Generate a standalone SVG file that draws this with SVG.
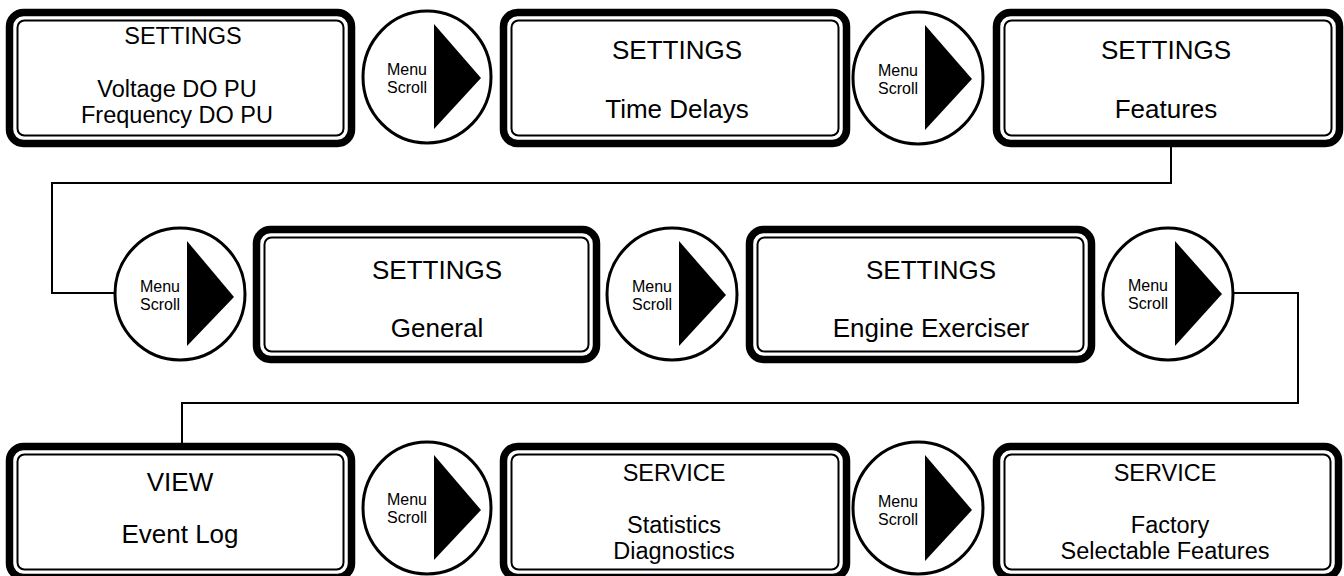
<svg xmlns="http://www.w3.org/2000/svg" width="1344" height="576" viewBox="0 0 1344 576">
<style>
.o{fill:#fff;stroke:#000;stroke-width:7.5}
.i{fill:none;stroke:#000;stroke-width:2}
.c{fill:#fff;stroke:#000;stroke-width:3}
.tri{fill:#000}
.t{font-family:"Liberation Sans",Arial,sans-serif;font-size:26px;fill:#000;text-anchor:middle}
.s{font-size:23.5px}
.m{font-family:"Liberation Sans",Arial,sans-serif;font-size:16px;fill:#000;text-anchor:middle}
.ln{fill:none;stroke:#000;stroke-width:2}
</style>
<rect width="1344" height="576" fill="#fff"/>
<g id="connectors">
<polyline class="ln" points="1171,147 1171,183 52,183 52,293 115,293"/>
<polyline class="ln" points="1233,293 1298,293 1298,403 182,403 182,443"/>
</g>
<g id="box-voltage">
<rect class="o" x="9.5" y="12.5" width="342" height="131" rx="14"/>
<rect class="i" x="17.5" y="20.5" width="326" height="115" rx="7"/>
<text class="t s" x="183" y="44">SETTINGS</text>
<text class="t s" x="177" y="97">Voltage DO PU</text>
<text class="t s" x="177" y="123">Frequency DO PU</text>
</g>
<g id="scroll-1">
<ellipse class="c" cx="427" cy="77" rx="64" ry="66"/>
<polygon class="tri" points="434,24 481,78 434,129"/>
<text class="m" x="407" y="75">Menu</text>
<text class="m" x="407" y="93">Scroll</text>
</g>
<g id="box-time">
<rect class="o" x="503.5" y="12.5" width="343" height="131" rx="14"/>
<rect class="i" x="511.5" y="20.5" width="327" height="115" rx="7"/>
<text class="t" x="677" y="59">SETTINGS</text>
<text class="t" x="677" y="118">Time Delays</text>
</g>
<g id="scroll-2">
<ellipse class="c" cx="918" cy="78" rx="65" ry="66"/>
<polygon class="tri" points="925,25 972,79 925,130"/>
<text class="m" x="898" y="76">Menu</text>
<text class="m" x="898" y="94">Scroll</text>
</g>
<g id="box-features">
<rect class="o" x="996.5" y="12.5" width="343" height="131" rx="14"/>
<rect class="i" x="1004.5" y="20.5" width="327" height="115" rx="7"/>
<text class="t" x="1166" y="59">SETTINGS</text>
<text class="t" x="1166" y="118">Features</text>
</g>
<g id="scroll-3">
<ellipse class="c" cx="180" cy="294" rx="65" ry="66"/>
<polygon class="tri" points="187,241 234,297 187,346"/>
<text class="m" x="160" y="292">Menu</text>
<text class="m" x="160" y="310">Scroll</text>
</g>
<g id="box-general">
<rect class="o" x="256.5" y="229.5" width="340" height="130" rx="14"/>
<rect class="i" x="264.5" y="237.5" width="324" height="114" rx="7"/>
<text class="t" x="437" y="279">SETTINGS</text>
<text class="t" x="437" y="337">General</text>
</g>
<g id="scroll-4">
<ellipse class="c" cx="672" cy="294" rx="65" ry="66"/>
<polygon class="tri" points="679,241 726,295 679,346"/>
<text class="m" x="652" y="292">Menu</text>
<text class="m" x="652" y="310">Scroll</text>
</g>
<g id="box-exerciser">
<rect class="o" x="749.5" y="229.5" width="342" height="130" rx="14"/>
<rect class="i" x="757.5" y="237.5" width="326" height="114" rx="7"/>
<text class="t" x="931" y="279">SETTINGS</text>
<text class="t" x="931" y="337">Engine Exerciser</text>
</g>
<g id="scroll-5">
<ellipse class="c" cx="1168" cy="294" rx="65" ry="66"/>
<polygon class="tri" points="1175,241 1222,294 1175,346"/>
<text class="m" x="1148" y="291">Menu</text>
<text class="m" x="1148" y="309">Scroll</text>
</g>
<g id="box-eventlog">
<rect class="o" x="9.5" y="446.5" width="342" height="131" rx="14"/>
<rect class="i" x="17.5" y="454.5" width="326" height="115" rx="7"/>
<text class="t" x="180" y="491">VIEW</text>
<text class="t" x="180" y="543">Event Log</text>
</g>
<g id="scroll-6">
<ellipse class="c" cx="427" cy="508" rx="64" ry="66"/>
<polygon class="tri" points="434,455 481,510 434,560"/>
<text class="m" x="407" y="505">Menu</text>
<text class="m" x="407" y="523">Scroll</text>
</g>
<g id="box-statistics">
<rect class="o" x="503.5" y="446.5" width="343" height="131" rx="14"/>
<rect class="i" x="511.5" y="454.5" width="327" height="115" rx="7"/>
<text class="t s" x="674" y="481">SERVICE</text>
<text class="t s" x="674" y="533">Statistics</text>
<text class="t s" x="674" y="559">Diagnostics</text>
</g>
<g id="scroll-7">
<ellipse class="c" cx="918" cy="508" rx="65" ry="66"/>
<polygon class="tri" points="925,455 972,510 925,561"/>
<text class="m" x="898" y="507">Menu</text>
<text class="m" x="898" y="525">Scroll</text>
</g>
<g id="box-factory">
<rect class="o" x="996.5" y="446.5" width="342" height="131" rx="14"/>
<rect class="i" x="1004.5" y="454.5" width="326" height="115" rx="7"/>
<text class="t s" x="1165" y="481">SERVICE</text>
<text class="t s" x="1170" y="533">Factory</text>
<text class="t s" x="1165" y="559">Selectable Features</text>
</g>
</svg>
